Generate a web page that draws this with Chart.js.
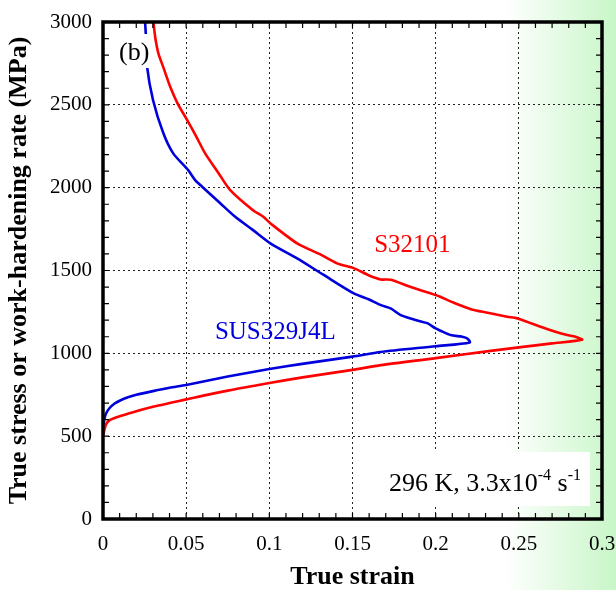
<!DOCTYPE html>
<html>
<head>
<meta charset="utf-8">
<script src="https://cdn.jsdelivr.net/npm/chart.js@4.4.1/dist/chart.umd.min.js"></script>
<style>
  html, body { margin: 0; padding: 0; }
  body {
    width: 616px; height: 590px; overflow: hidden;
    background: linear-gradient(to right, #ffffff 0px, #ffffff 505px, rgb(200, 246, 200) 616px);
  }
  canvas { display: block; }
</style>
</head>
<body>
<canvas id="chart" width="616" height="590"></canvas>
<script>
// S32101: tensile curve up to the tip, then the work-hardening rate back to the top
const s32101Strain = [0, 0.001, 0.002, 0.004, 0.007, 0.010, 0.020, 0.030, 0.040, 0.050, 0.075, 0.100, 0.120,
  0.150, 0.167, 0.200, 0.233, 0.250, 0.270, 0.288,
  0.284, 0.279, 0.272, 0.263, 0.255, 0.249, 0.243, 0.235, 0.223, 0.211, 0.200, 0.185, 0.173, 0.167, 0.160,
  0.151, 0.1407, 0.130, 0.1167, 0.1006, 0.0964, 0.090, 0.0765, 0.0690, 0.0614, 0.0560, 0.0506, 0.0448,
  0.0404, 0.0365, 0.0333, 0.0315, 0.0303];
const s32101Stress = [500, 545, 575, 597, 610, 620, 650, 677, 700, 722, 775, 821, 855,
  900, 929, 971, 1015, 1036, 1060, 1082,
  1100, 1110, 1130, 1161, 1190, 1211, 1221, 1238, 1261, 1305, 1352, 1400, 1444, 1446, 1470,
  1513, 1543, 1600, 1664, 1785, 1824, 1865, 1985, 2095, 2207, 2310, 2408, 2509,
  2609, 2720, 2811, 2900, 3000];

// SUS329J4L
const sus329Strain = [0, 0.001, 0.002, 0.004, 0.007, 0.010, 0.015, 0.020, 0.030, 0.040, 0.050, 0.075, 0.100,
  0.1187, 0.150, 0.167, 0.200, 0.2205,
  0.219, 0.216, 0.209, 0.203, 0.200, 0.195, 0.190, 0.186, 0.179, 0.1729, 0.167, 0.160, 0.1508, 0.1327,
  0.1167, 0.1006, 0.090, 0.0795, 0.0705, 0.0596, 0.0554, 0.0512, 0.0422, 0.0363, 0.0301, 0.0265,
  0.0257, 0.0253];
const sus329Stress = [550, 610, 640, 670, 697, 714, 735, 750, 772, 792, 809, 860, 905,
  935, 980, 1008, 1043, 1066,
  1090, 1100, 1110, 1136, 1150, 1182, 1195, 1207, 1231, 1271, 1291, 1325, 1362, 1473,
  1573, 1664, 1745, 1824, 1906, 2006, 2046, 2106, 2207, 2328, 2528, 2730,
  2933, 3000];

const xTicks = [0, 0.05, 0.1, 0.15, 0.2, 0.25, 0.3];
const xTickLabels = ['0', '0.05', '0.1', '0.15', '0.2', '0.25', '0.3'];
const yTicks = [0, 500, 1000, 1500, 2000, 2500, 3000];
const yTickLabels = ['0', '500', '1000', '1500', '2000', '2500', '3000'];

const serif = '"Liberation Serif", "Times New Roman", serif';

function toPoints(xs, ys) {
    return xs.map((v, i) => ({ x: v, y: ys[i] }));
}

// Inward ticks on all four sides, the heavy frame, and the text labels
const framePlugin = {
    id: 'framePlugin',
    afterDatasetsDraw(chart) {
        const { ctx, chartArea: a, scales: { x, y } } = chart;
        ctx.save();

        // white patch behind "(b)"
        ctx.fillStyle = '#fff';
        ctx.fillRect(117, 34, 33, 34);
        ctx.fillStyle = '#000';
        ctx.font = '26px ' + serif;
        ctx.textAlign = 'left';
        ctx.textBaseline = 'alphabetic';
        ctx.fillText('(b)', 119, 60);

        // curve labels
        ctx.font = '25px ' + serif;
        ctx.textAlign = 'center';
        ctx.textBaseline = 'middle';
        ctx.fillStyle = '#ff0000';
        ctx.fillText('S32101', x.getPixelForValue(0.186), y.getPixelForValue(1654));
        ctx.fillStyle = '#0000dd';
        ctx.fillText('SUS329J4L', x.getPixelForValue(0.1036), y.getPixelForValue(1129));

        // condition box
        ctx.fillStyle = '#fff';
        ctx.fillRect(380, 452, 210, 54);
        ctx.fillStyle = '#000';
        ctx.textAlign = 'left';
        ctx.textBaseline = 'alphabetic';
        let tx = 389;
        const base = 491;
        const parts = [['296 K, 3.3x10', false], ['-4', true], [' s', false], ['-1', true]];
        for (const [t, sup] of parts) {
            ctx.font = (sup ? '16px ' : '26px ') + serif;
            ctx.fillText(t, tx, sup ? base - 11 : base);
            tx += ctx.measureText(t).width;
        }

        // ticks
        ctx.strokeStyle = '#000';
        ctx.lineWidth = 1.2;
        ctx.beginPath();
        for (let i = 1; i < 30; i++) {
            const px = x.getPixelForValue(i / 100);
            ctx.moveTo(px, a.bottom); ctx.lineTo(px, a.bottom - 6);
            ctx.moveTo(px, a.top); ctx.lineTo(px, a.top + 6);
        }
        for (let i = 1; i < 30; i++) {
            const py = y.getPixelForValue(i * 100);
            ctx.moveTo(a.left, py); ctx.lineTo(a.left + 6, py);
            ctx.moveTo(a.right, py); ctx.lineTo(a.right - 6, py);
        }
        ctx.stroke();

        // frame
        ctx.lineWidth = 3.5;
        ctx.strokeRect(a.left, a.top, a.right - a.left, a.bottom - a.top);
        ctx.restore();
    }
};

const gridStyle = {
    color: '#222',
    lineWidth: 1,
    drawTicks: false
};

new Chart(document.getElementById('chart').getContext('2d'), {
    type: 'scatter',
    data: {
        datasets: [{
            label: 'S32101',
            data: toPoints(s32101Strain, s32101Stress),
            showLine: true,
            borderColor: '#ff0000',
            borderWidth: 2.6,
            pointRadius: 0,
            tension: 0.25
        }, {
            label: 'SUS329J4L',
            data: toPoints(sus329Strain, sus329Stress),
            showLine: true,
            borderColor: '#0000dd',
            borderWidth: 2.6,
            pointRadius: 0,
            tension: 0.25
        }]
    },
    options: {
        responsive: false,
        animation: false,
        layout: { padding: { top: 22, right: 14, left: 0, bottom: 0 } },
        plugins: { legend: { display: false }, tooltip: { enabled: false } },
        scales: {
            x: {
                type: 'linear',
                min: 0, max: 0.3,
                afterBuildTicks: (scale) => { scale.ticks = xTicks.map(v => ({ value: v })); },
                afterFit: (scale) => {
                    scale.height = 71;
                    scale.paddingLeft = 0;
                    scale.paddingRight = 0;
                },
                grid: gridStyle,
                border: { display: false, dash: [2, 3] },
                ticks: {
                    color: '#000',
                    padding: 13,
                    maxRotation: 0,
                    font: { family: serif, size: 21 },
                    callback: (v) => xTickLabels[xTicks.indexOf(v)] ?? ''
                },
                title: {
                    display: true,
                    text: 'True strain',
                    color: '#000',
                    padding: { top: 0, bottom: -3 },
                    font: { family: serif, size: 26, weight: 'bold' }
                }
            },
            y: {
                type: 'linear',
                min: 0, max: 3000,
                afterBuildTicks: (scale) => { scale.ticks = yTicks.map(v => ({ value: v })); },
                afterFit: (scale) => {
                    scale.width = 103;
                    scale.paddingTop = 0;
                    scale.paddingBottom = 0;
                },
                grid: gridStyle,
                border: { display: false, dash: [2, 3] },
                ticks: {
                    color: '#000',
                    padding: 11,
                    font: { family: serif, size: 21 },
                    callback: (v) => yTickLabels[yTicks.indexOf(v)] ?? ''
                },
                title: {
                    display: true,
                    text: 'True stress or work-hardening rate (MPa)',
                    color: '#000',
                    padding: { top: 4, bottom: 0 },
                    font: { family: serif, size: 26, weight: 'bold' }
                }
            }
        }
    },
    plugins: [framePlugin]
});
</script>
</body>
</html>
